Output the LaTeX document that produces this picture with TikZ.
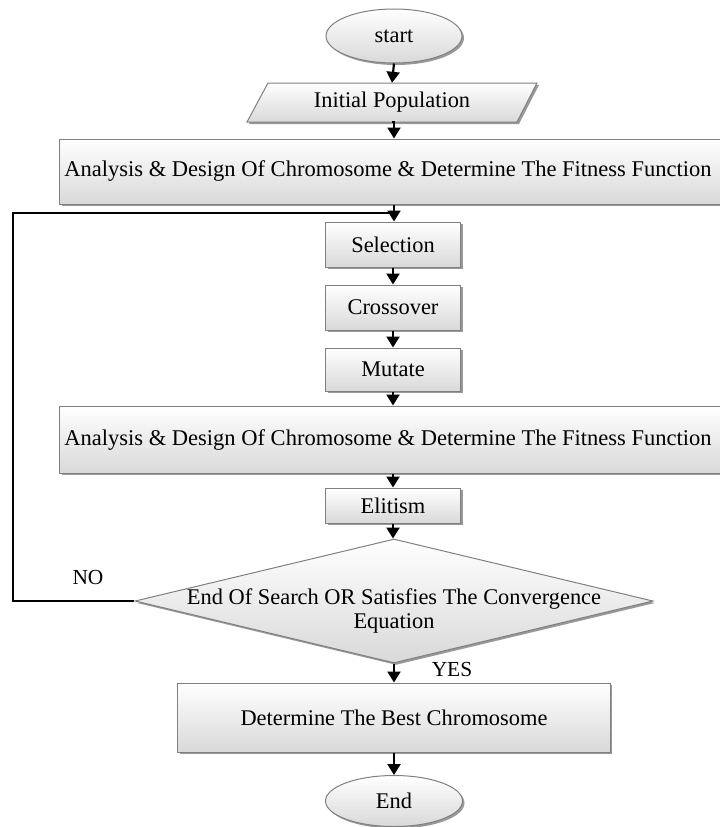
\documentclass[tikz,border=0pt]{standalone}
\usepackage{fontspec}
\setmainfont{Liberation Serif}
\usetikzlibrary{shapes.geometric,arrows.meta,shadows}
\begin{document}
\begin{tikzpicture}[x=1bp,y=-1bp,
  every node/.style={font=\fontsize{22.5}{24.5}\selectfont, text=black, inner sep=0pt},
  boxshade/.style={top color=white, bottom color=black!15},
  boxshadow/.style={drop shadow={shadow xshift=2bp,shadow yshift=-2bp,fill=black!50,opacity=0.8}},
  procbox/.style={rectangle, draw=black!50, line width=1bp, boxshade, boxshadow, align=center},
  termbox/.style={ellipse, draw=black!50, line width=1bp, boxshade, boxshadow},
  decbox/.style={diamond, draw=black!50, line width=1bp, boxshade, boxshadow},
  widetext/.style={font=\fontsize{22.6}{24.5}\selectfont},
  flow/.style={line width=2.2bp, -{Triangle[length=11bp,width=13bp]}},
  loopline/.style={line width=2.4bp},
  lbl/.style={font=\fontsize{21.5}{23}\selectfont}
]
\useasboundingbox (0,0) rectangle (720,827);
\clip (0,0) rectangle (720,827);

% start
\node[termbox, minimum width=136bp, minimum height=54bp] (start) at (394,36) {start};

% Initial population (parallelogram)
\path[draw=black!50, line width=1bp, boxshade, boxshadow]
  (247,122) -- (517,122) -- (537,83) -- (268,83) -- cycle;
\node[minimum width=270bp, minimum height=39bp] (pop) at (392,102.5) {Initial Population};

% analysis 1
\node[procbox, widetext, minimum width=668bp, minimum height=65bp] (an1) at (394,171.5)
  {\hspace*{-12bp}Analysis \& Design Of Chromosome \& Determine The Fitness Function};

\node[procbox, minimum width=135bp, minimum height=45bp] (sel) at (393,244.5) {Selection};
\node[procbox, minimum width=135bp, minimum height=45bp] (cro) at (393,307.5) {Crossover};
\node[procbox, minimum width=135bp, minimum height=43bp] (mut) at (393,369.5) {Mutate};

\node[procbox, widetext, minimum width=668bp, minimum height=67bp] (an2) at (394,439.5)
  {\hspace*{-12bp}Analysis \& Design Of Chromosome \& Determine The Fitness Function};

\node[procbox, minimum width=135bp, minimum height=35bp] (eli) at (393,505.5) {Elitism};

\node[decbox, minimum width=518bp, minimum height=124bp] (dec) at (394,601) {};
\node[align=center] (dectext) at (394,611) {End Of Search OR Satisfies The Convergence\\Equation};

\node[procbox, minimum width=432bp, minimum height=69bp] (best) at (394,717.5) {Determine The Best Chromosome};

\node[termbox, minimum width=137bp, minimum height=51bp] (end) at (394,801) {End};

\node[lbl] (no) at (88,578) {NO};
\node[lbl] (yes) at (452,670) {YES};

% connectors
\coordinate (join) at (394,213);
\coordinate (lp) at (13,601);
\draw[flow] (start.south) -- (pop.north);
\draw[flow] (pop.south) -- (an1.south |- pop.south) -- (an1.north);
\draw[flow] (an1.south) -- (sel.north -| an1.south);
\draw[loopline] (dec.west) -- (lp) |- (join);
\draw[flow] (sel.south) -- (cro.north);
\draw[flow] (cro.south) -- (mut.north);
\draw[flow] (mut.south) -- (an2.north -| mut.south);
\draw[flow] (an2.south -| eli.south) -- (eli.north);
\draw[flow] (eli.south) -- (dec.north -| eli.south);
\draw[flow] (dec.south) -- (best.north);
\draw[flow] (best.south) -- (end.north);
\end{tikzpicture}
\end{document}
